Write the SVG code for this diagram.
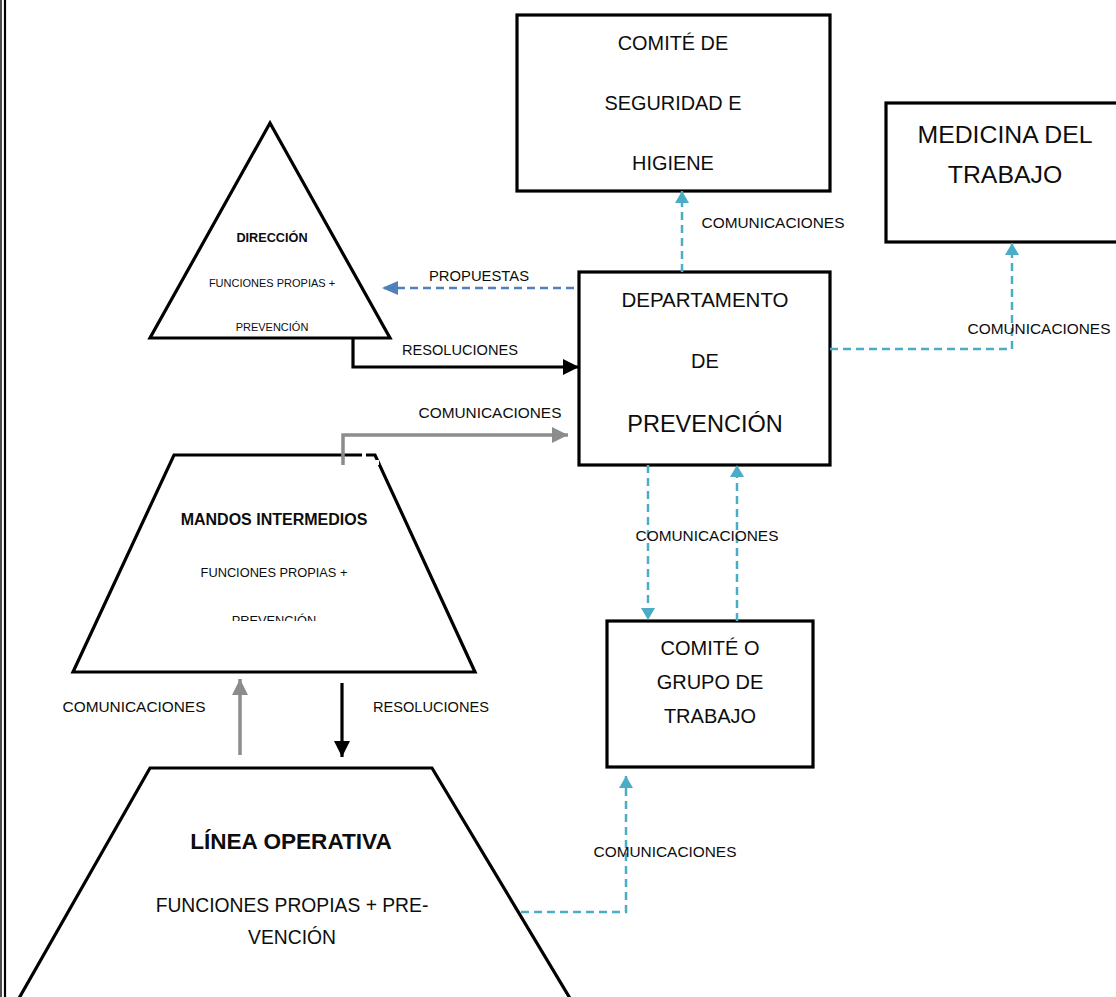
<svg xmlns="http://www.w3.org/2000/svg" width="1116" height="997" viewBox="0 0 1116 997">
<style>
.box{fill:#fff;stroke:#000;stroke-width:3.2}
.t{font-family:"Liberation Sans",Arial,sans-serif;fill:#0d0d0d;text-anchor:middle}
.b{font-weight:bold}
.cy{fill:none;stroke:#4BACC6;stroke-width:2.5;stroke-dasharray:8,5}
.bl{fill:none;stroke:#4F81BD;stroke-width:2.5;stroke-dasharray:8,5}
.gr{fill:none;stroke:#8C8C8C;stroke-width:3.5}
.bk{fill:none;stroke:#000;stroke-width:3.2}
</style>
<defs>
<marker id="aCy" markerUnits="userSpaceOnUse" markerWidth="14" markerHeight="14" refX="12" refY="7" orient="auto"><path d="M0,0 L12,7 L0,14 z" fill="#4BACC6"/></marker>
<marker id="aBl" markerUnits="userSpaceOnUse" markerWidth="16" markerHeight="14" refX="16" refY="7" orient="auto"><path d="M0,0 L16,7 L0,14 z" fill="#4F81BD"/></marker>
<marker id="aBk" markerUnits="userSpaceOnUse" markerWidth="16" markerHeight="16" refX="16" refY="8" orient="auto"><path d="M0,0 L16,8 L0,16 z" fill="#000"/></marker>
<marker id="aGr" markerUnits="userSpaceOnUse" markerWidth="16" markerHeight="16" refX="16" refY="8" orient="auto"><path d="M0,0 L16,8 L0,16 z" fill="#8C8C8C"/></marker>
<clipPath id="clipM"><rect x="60" y="440" width="430" height="181"/></clipPath>
</defs>
<rect x="0" y="0" width="1116" height="997" fill="#fff"/>
<line x1="1" y1="0" x2="1" y2="997" stroke="#000" stroke-width="1.4"/>
<line x1="5" y1="0" x2="5" y2="997" stroke="#000" stroke-width="2.2"/>

<g id="comite-seguridad">
<rect class="box" x="517" y="15" width="313" height="176"/>
<text class="t" x="673" y="50" font-size="19.9">COMITÉ DE</text>
<text class="t" x="673" y="110" font-size="19.9">SEGURIDAD E</text>
<text class="t" x="673" y="170" font-size="19.9">HIGIENE</text>
</g>

<g id="medicina">
<rect class="box" x="886" y="103" width="250" height="139"/>
<text class="t" x="1005" y="143" font-size="24.8">MEDICINA DEL</text>
<text class="t" x="1005" y="183" font-size="24.8">TRABAJO</text>
</g>

<g id="direccion">
<polygon class="box" points="270,123 390,338 150,338"/>
<text class="t b" x="272" y="242" font-size="12.7">DIRECCIÓN</text>
<text class="t" x="272" y="287" font-size="11">FUNCIONES PROPIAS +</text>
<text class="t" x="272" y="331" font-size="11">PREVENCIÓN</text>
</g>

<g id="departamento">
<rect class="box" x="579" y="272" width="251" height="193"/>
<text class="t" x="705" y="307" font-size="20.5">DEPARTAMENTO</text>
<text class="t" x="705" y="368" font-size="20">DE</text>
<text class="t" x="705" y="432" font-size="23.5">PREVENCIÓN</text>
</g>

<g id="mandos">
<polygon class="box" points="174,455 375,455 475,672 73,672"/>
<rect x="362" y="452" width="4" height="6" fill="#fff"/>
<rect x="375" y="460" width="4" height="5" fill="#fff"/>
<text class="t b" x="274" y="525" font-size="16">MANDOS INTERMEDIOS</text>
<text class="t" x="274" y="577" font-size="12.8">FUNCIONES PROPIAS +</text>
<text class="t" x="274" y="625" font-size="12.8" clip-path="url(#clipM)">PREVENCIÓN</text>
</g>

<g id="comite-grupo">
<rect class="box" x="607" y="621" width="206" height="146"/>
<text class="t" x="710" y="655" font-size="20">COMITÉ O</text>
<text class="t" x="710" y="689" font-size="20">GRUPO DE</text>
<text class="t" x="710" y="723" font-size="20">TRABAJO</text>
</g>

<g id="linea-operativa">
<polyline class="box" points="18,1000 150,768 432,768 571,1000"/>
<text class="t b" x="291" y="849" font-size="22.6">LÍNEA OPERATIVA</text>
<text class="t" x="292" y="912" font-size="19.3">FUNCIONES PROPIAS + PRE-</text>
<text class="t" x="292" y="944" font-size="19.3">VENCIÓN</text>
</g>

<g id="connectors">
<line class="cy" x1="682" y1="272" x2="682" y2="191" marker-end="url(#aCy)"/>
<polyline class="cy" points="830,349 1012,349 1012,243" marker-end="url(#aCy)"/>
<line class="cy" x1="648" y1="465" x2="648" y2="620" marker-end="url(#aCy)"/>
<line class="cy" x1="737" y1="621" x2="737" y2="465" marker-end="url(#aCy)"/>
<polyline class="cy" points="521,912 626,912 626,776" marker-end="url(#aCy)"/>
<line class="bl" x1="574" y1="288" x2="382" y2="288" marker-end="url(#aBl)"/>
<polyline class="bk" points="353,338 353,367 579,367" marker-end="url(#aBk)"/>
<polyline class="gr" points="343,465 343,435 568,435" marker-end="url(#aGr)"/>
<line class="gr" x1="240" y1="755" x2="240" y2="679" marker-end="url(#aGr)"/>
<line class="bk" x1="342" y1="683" x2="342" y2="757" marker-end="url(#aBk)"/>
<text class="t" x="773" y="228" font-size="15.4">COMUNICACIONES</text>
<text class="t" x="1039" y="334" font-size="15.4">COMUNICACIONES</text>
<text class="t" x="479" y="281" font-size="14.8">PROPUESTAS</text>
<text class="t" x="460" y="355" font-size="14.6">RESOLUCIONES</text>
<text class="t" x="490" y="418" font-size="15.4">COMUNICACIONES</text>
<text class="t" x="707" y="541" font-size="15.4">COMUNICACIONES</text>
<text class="t" x="134" y="712" font-size="15.4">COMUNICACIONES</text>
<text class="t" x="431" y="712" font-size="14.6">RESOLUCIONES</text>
<text class="t" x="665" y="857" font-size="15.4">COMUNICACIONES</text>
</g>
</svg>
